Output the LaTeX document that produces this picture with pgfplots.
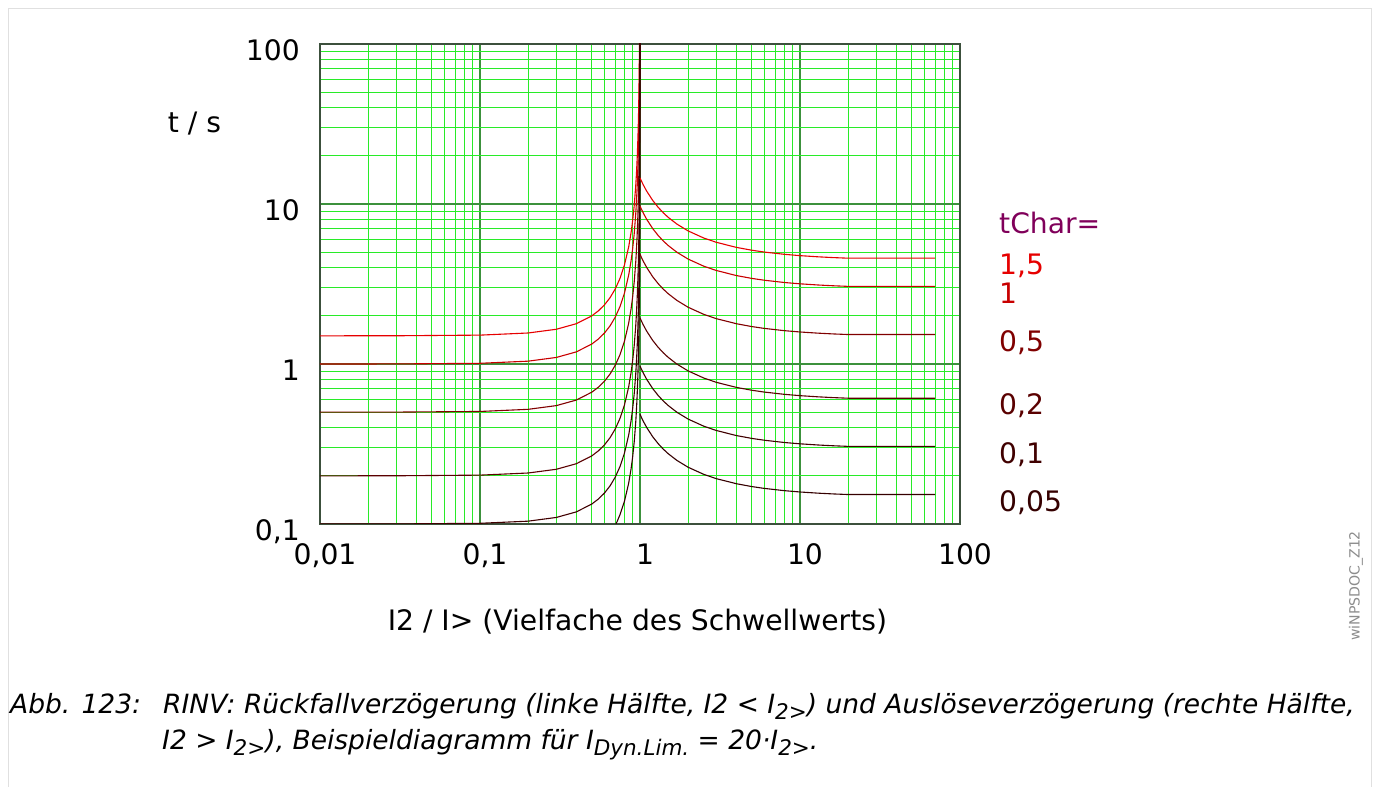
\documentclass[border=0pt]{standalone}
\usepackage{fontspec}
\setmainfont{DejaVu Sans}
\usepackage{pgfplots}
\pgfplotsset{compat=1.18}
\definecolor{gmin}{RGB}{40,235,40}
\definecolor{gmaj}{RGB}{60,145,60}
\definecolor{frame}{RGB}{60,80,60}
\definecolor{cA}{RGB}{230,0,0}
\definecolor{cB}{RGB}{200,0,0}
\definecolor{cC}{RGB}{128,0,0}
\definecolor{cD}{RGB}{90,0,0}
\definecolor{cE}{RGB}{64,0,0}
\definecolor{cF}{RGB}{53,0,0}
\definecolor{lab}{RGB}{128,0,90}
\newcommand\sub[1]{\raisebox{-0.22em}{\fontsize{21.5pt}{22pt}\selectfont #1}}
\begin{document}
\fontsize{28.2pt}{34pt}\selectfont
\begin{tikzpicture}[x=1pt,y=1pt]
\useasboundingbox (0,0) rectangle (1377,787);
\draw[black!12, line width=1.5pt] (8.5,778.5) rectangle (1371.5,-10);
\begin{axis}[
  at={(320pt,263pt)}, anchor=south west,
  width=640pt, height=480pt, scale only axis,
  xmode=log, ymode=log,
  xmin=0.01, xmax=100, ymin=0.1, ymax=100,
  xtick={0.01,0.1,1,10,100},
  xticklabels={{0,01},{0,1},1,10,100},
  ytick={0.1,1,10,100},
  yticklabels={{0,1},1,10,100},
  major tick length=0pt, minor tick length=0pt,
  grid=both,
  minor grid style={draw=gmin, line width=1.2pt},
  major grid style={draw=gmaj, line width=2pt},
  axis line style={draw=frame, line width=2pt},
  xticklabel style={anchor=base, inner sep=0pt, yshift=-41pt, xshift=5pt},
  yticklabel style={anchor=base east, inner sep=0pt, xshift=-20pt, yshift=-17pt},
  every axis x label/.style={at={(axis description cs:0.496,-0.2223)}, anchor=base},
  every axis y label/.style={at={(axis description cs:-0.196,0.815)}, anchor=base},
  xlabel={I2 / I> (Vielfache des Schwellwerts)},
  ylabel={t / s},
  clip mode=individual,
  every axis plot/.append style={line width=1.1pt, mark=none},
]
% reset delay (left half)
\addplot[cA] coordinates {(0.01,1.5002)(0.03,1.5014)(0.1,1.5152)(0.2,1.5625)(0.3,1.6484)(0.4,1.7857)(0.5,2.0)(0.55,2.1505)(0.6,2.3438)(0.65,2.5974)(0.7,2.9412)(0.75,3.4286)(0.8,4.1667)(0.85,5.4054)(0.88,6.6489)(0.9,7.8947)(0.92,9.7656)(0.94,12.887)(0.95,15.385)(0.96,19.133)(0.97,25.38)(0.975,30.38)(0.98,37.88)(0.985,50.38)(0.99,75.38)(0.993,107.5)};
\addplot[cB] coordinates {(0.01,1.0001)(0.03,1.0009)(0.1,1.0101)(0.2,1.0417)(0.3,1.0989)(0.4,1.1905)(0.5,1.3333)(0.55,1.4337)(0.6,1.5625)(0.65,1.7316)(0.7,1.9608)(0.75,2.2857)(0.8,2.7778)(0.85,3.6036)(0.88,4.4326)(0.9,5.2632)(0.92,6.5104)(0.94,8.5911)(0.95,10.256)(0.96,12.755)(0.97,16.920)(0.975,20.253)(0.98,25.253)(0.985,33.585)(0.99,50.251)(0.993,71.679)(0.995,100.25)(0.997,166.9)};
\addplot[cC] coordinates {(0.01,0.50005)(0.03,0.50045)(0.1,0.50505)(0.2,0.52083)(0.3,0.54945)(0.4,0.59524)(0.5,0.66667)(0.55,0.71685)(0.6,0.78125)(0.65,0.8658)(0.7,0.98039)(0.75,1.1429)(0.8,1.3889)(0.85,1.8018)(0.88,2.2163)(0.9,2.6316)(0.92,3.2552)(0.94,4.2955)(0.95,5.1282)(0.96,6.3776)(0.97,8.46)(0.975,10.127)(0.98,12.626)(0.985,16.79)(0.99,25.126)(0.993,35.84)(0.995,50.125)(0.997,83.45)(0.998,125.1)};
\addplot[cD] coordinates {(0.01,0.20002)(0.03,0.20018)(0.1,0.20202)(0.2,0.20833)(0.3,0.21978)(0.4,0.2381)(0.5,0.26667)(0.55,0.28674)(0.6,0.3125)(0.65,0.34632)(0.7,0.39216)(0.75,0.45714)(0.8,0.55556)(0.85,0.72072)(0.88,0.88652)(0.9,1.0526)(0.92,1.3021)(0.94,1.7182)(0.95,2.0513)(0.96,2.551)(0.97,3.384)(0.975,4.0506)(0.98,5.0506)(0.985,6.717)(0.99,10.05)(0.993,14.336)(0.995,20.05)(0.997,33.38)(0.998,50.05)(0.999,100.05)(0.9995,200.05)};
\addplot[cE] coordinates {(0.01,0.10001)(0.03,0.10009)(0.1,0.10101)(0.2,0.10417)(0.3,0.10989)(0.4,0.11905)(0.5,0.13333)(0.55,0.14337)(0.6,0.15625)(0.65,0.17316)(0.7,0.19608)(0.75,0.22857)(0.8,0.27778)(0.85,0.36036)(0.88,0.44326)(0.9,0.52632)(0.92,0.65104)(0.94,0.85911)(0.95,1.0256)(0.96,1.2755)(0.97,1.692)(0.975,2.0253)(0.98,2.5253)(0.985,3.3585)(0.99,5.0251)(0.993,7.1679)(0.995,10.025)(0.997,16.69)(0.998,25.025)(0.999,50.025)(0.9995,100.025)(0.9998,250.0)};
\addplot[cF] coordinates {(0.6,0.078125)(0.65,0.08658)(0.7,0.098039)(0.72,0.10382)(0.75,0.11429)(0.8,0.13889)(0.85,0.18018)(0.88,0.22163)(0.9,0.26316)(0.92,0.32552)(0.94,0.42955)(0.95,0.51282)(0.96,0.63776)(0.97,0.846)(0.975,1.0127)(0.98,1.2626)(0.985,1.679)(0.99,2.5126)(0.993,3.584)(0.995,5.0125)(0.997,8.345)(0.998,12.51)(0.999,25.01)(0.9995,50.01)(0.99975,100.01)(0.9999,250.0)};
% trip delay (right half)
\addplot[cA] coordinates {(1,14.563)(1.02,13.937)(1.05,13.130)(1.1,12.053)(1.2,10.539)(1.3,9.5262)(1.4,8.8013)(1.5,8.2568)(1.7,7.4933)(2,6.7874)(2.5,6.1325)(3,5.762)(4,5.3571)(5,5.1405)(6,5.0055)(8,4.8465)(10,4.7559)(13,4.6752)(16,4.626)(20,4.5843)(70,4.5843)};
\addplot[cB] coordinates {(1,9.7087)(1.02,9.2911)(1.05,8.7535)(1.1,8.0354)(1.2,7.0260)(1.3,6.3508)(1.4,5.8675)(1.5,5.5045)(1.7,4.9955)(2,4.5249)(2.5,4.0883)(3,3.8413)(4,3.5714)(5,3.4270)(6,3.3370)(8,3.2310)(10,3.1706)(13,3.1168)(16,3.0840)(20,3.0562)(70,3.0562)};
\addplot[cC] coordinates {(1,4.8544)(1.02,4.6456)(1.05,4.3768)(1.1,4.0177)(1.2,3.513)(1.3,3.1754)(1.4,2.9338)(1.5,2.7523)(1.7,2.4978)(2,2.2625)(2.5,2.0442)(3,1.9207)(4,1.7857)(5,1.7135)(6,1.6685)(8,1.6155)(10,1.5853)(13,1.5584)(16,1.542)(20,1.5281)(70,1.5281)};
\addplot[cD] coordinates {(1,1.9417)(1.02,1.8582)(1.05,1.7507)(1.1,1.6071)(1.2,1.4052)(1.3,1.2702)(1.4,1.1735)(1.5,1.1009)(1.7,0.9991)(2,0.905)(2.5,0.8177)(3,0.7683)(4,0.7143)(5,0.6854)(6,0.6674)(8,0.6462)(10,0.6341)(13,0.6234)(16,0.6168)(20,0.6112)(70,0.6112)};
\addplot[cE] coordinates {(1,0.97087)(1.02,0.92911)(1.05,0.87535)(1.1,0.80354)(1.2,0.7026)(1.3,0.63508)(1.4,0.58675)(1.5,0.55045)(1.7,0.49955)(2,0.45249)(2.5,0.40883)(3,0.38413)(4,0.35714)(5,0.3427)(6,0.3337)(8,0.3231)(10,0.31706)(13,0.31168)(16,0.3084)(20,0.30562)(70,0.30562)};
\addplot[cF] coordinates {(1,0.48544)(1.02,0.46456)(1.05,0.43768)(1.1,0.40177)(1.2,0.3513)(1.3,0.31754)(1.4,0.29338)(1.5,0.27523)(1.7,0.24978)(2,0.22625)(2.5,0.20442)(3,0.19207)(4,0.17857)(5,0.17135)(6,0.16685)(8,0.16155)(10,0.15853)(13,0.15584)(16,0.1542)(20,0.15281)(70,0.15281)};
\end{axis}
\node[anchor=base west, inner sep=0pt, text=lab] at (999,553.7) {tChar=};
\node[anchor=base west, inner sep=0pt, text=cA] at (999,512) {1,5};
\node[anchor=base west, inner sep=0pt, text=cB] at (999,483.7) {1};
\node[anchor=base west, inner sep=0pt, text=cC] at (999,435.3) {0,5};
\node[anchor=base west, inner sep=0pt, text=cD] at (999,372) {0,2};
\node[anchor=base west, inner sep=0pt, text=cE] at (999,323.7) {0,1};
\node[anchor=base west, inner sep=0pt, text=cF] at (999,275.3) {0,05};
\node[rotate=90, inner sep=0pt, text=black!45, font=\fontsize{14.1pt}{17pt}\selectfont] at (1356,201) {wiNPSDOC\_Z12};
\begin{scope}[every node/.style={anchor=base west, inner sep=0pt, font=\fontsize{26.5pt}{32pt}\selectfont\itshape}]
\node at (10,73) {Abb. 123:};
\node at (163,73) {RINV: Rückfallverzögerung (linke Hälfte, I2 < I\sub{2>}) und Auslöseverzögerung (rechte Hälfte,};
\node at (162,37) {I2 > I\sub{2>}), Beispieldiagramm für I\sub{Dyn.Lim.} = 20·I\sub{2>}.};
\end{scope}
\end{tikzpicture}
\end{document}
